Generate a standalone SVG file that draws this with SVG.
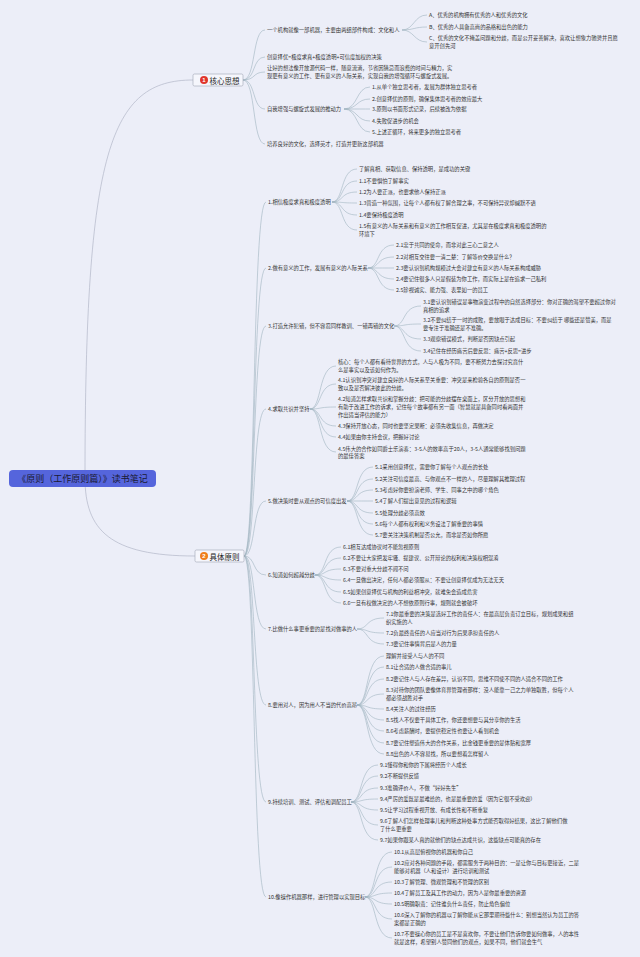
<svg xmlns="http://www.w3.org/2000/svg" width="640" height="957" viewBox="0 0 640 957">
<style>
.t{font-family:"Noto Sans CJK SC","Noto Sans",sans-serif;font-size:5.3px;fill:#333;dominant-baseline:central}
.c{fill:none;stroke:#9fb4bf;stroke-width:0.6}
.r{fill:none;stroke:#a8adc0;stroke-width:0.6}
.box{fill:#f5f6fc;stroke:#a0a4b4;stroke-width:0.6}
.bt{font-family:"Noto Sans CJK SC","Noto Sans",sans-serif;font-size:7.5px;fill:#222;dominant-baseline:central}
.num{font-family:"Liberation Sans",sans-serif;font-size:6px;fill:#fff;text-anchor:middle;dominant-baseline:central;font-weight:bold}
</style>
<rect width="640" height="957" fill="#eceef8"/>
<g id="connectors">
<path class="r" d="M85,478 C85,150 110,80 193,80"/>
<path class="r" d="M85,478 C85,530 110,556 195,556"/>
<path class="c" d="M243,80 C256,80 252,30 265,30"/>
<path class="c" d="M243,80 C256,80 252,57 265,57"/>
<path class="c" d="M243,80 C256,80 252,72 265,72"/>
<path class="c" d="M243,80 C256,80 252,109 265,109"/>
<path class="c" d="M243,80 C256,80 252,144 265,144"/>
<path class="c" d="M402,30 C414,30 414,15 427,15"/>
<path class="c" d="M402,30 C414,30 414,27 427,27"/>
<path class="c" d="M402,30 C414,30 414,42 427,42"/>
<path class="c" d="M344,109 C358,109 356,87 370,87"/>
<path class="c" d="M344,109 C358,109 356,99 370,99"/>
<path class="c" d="M344,109 C358,109 356,109 370,109"/>
<path class="c" d="M344,109 C358,109 356,121 370,121"/>
<path class="c" d="M344,109 C358,109 356,132 370,132"/>
<path class="c" d="M244,556 C256,556 252,202 266,202"/>
<path class="c" d="M244,556 C256,556 252,268 266,268"/>
<path class="c" d="M244,556 C256,556 252,326 266,326"/>
<path class="c" d="M244,556 C256,556 252,409 266,409"/>
<path class="c" d="M244,556 C256,556 252,501 266,501"/>
<path class="c" d="M244,556 C256,556 252,575 266,575"/>
<path class="c" d="M244,556 C256,556 252,629 266,629"/>
<path class="c" d="M244,556 C256,556 252,705 266,705"/>
<path class="c" d="M244,556 C256,556 252,802 266,802"/>
<path class="c" d="M244,556 C256,556 252,897 266,897"/>
<path class="c" d="M332,202 C344,202 340,169 357,169"/>
<path class="c" d="M332,202 C344,202 340,181 357,181"/>
<path class="c" d="M332,202 C344,202 340,192 357,192"/>
<path class="c" d="M332,202 C344,202 340,203 357,203"/>
<path class="c" d="M332,202 C344,202 340,215 357,215"/>
<path class="c" d="M332,202 C344,202 340,230 357,230"/>
<path class="c" d="M368,268 C380,268 376,245 394,245"/>
<path class="c" d="M368,268 C380,268 376,257 394,257"/>
<path class="c" d="M368,268 C380,268 376,268 394,268"/>
<path class="c" d="M368,268 C380,268 376,279 394,279"/>
<path class="c" d="M368,268 C380,268 376,290 394,290"/>
<path class="c" d="M394,326 C406,326 402,306 421,306"/>
<path class="c" d="M394,326 C406,326 402,324 421,324"/>
<path class="c" d="M394,326 C406,326 402,339 421,339"/>
<path class="c" d="M394,326 C406,326 402,351 421,351"/>
<path class="c" d="M310,409 C322,409 318,366 336,366"/>
<path class="c" d="M310,409 C322,409 318,384 336,384"/>
<path class="c" d="M310,409 C322,409 318,407 336,407"/>
<path class="c" d="M310,409 C322,409 318,426 336,426"/>
<path class="c" d="M310,409 C322,409 318,437 336,437"/>
<path class="c" d="M310,409 C322,409 318,452 336,452"/>
<path class="c" d="M347,501 C359,501 355,467 373,467"/>
<path class="c" d="M347,501 C359,501 355,479 373,479"/>
<path class="c" d="M347,501 C359,501 355,490 373,490"/>
<path class="c" d="M347,501 C359,501 355,501 373,501"/>
<path class="c" d="M347,501 C359,501 355,513 373,513"/>
<path class="c" d="M347,501 C359,501 355,524 373,524"/>
<path class="c" d="M347,501 C359,501 355,535 373,535"/>
<path class="c" d="M315,575 C327,575 323,547 341,547"/>
<path class="c" d="M315,575 C327,575 323,558 341,558"/>
<path class="c" d="M315,575 C327,575 323,569 341,569"/>
<path class="c" d="M315,575 C327,575 323,580 341,580"/>
<path class="c" d="M315,575 C327,575 323,592 341,592"/>
<path class="c" d="M315,575 C327,575 323,603 341,603"/>
<path class="c" d="M357,629 C369,629 365,618 384,618"/>
<path class="c" d="M357,629 C369,629 365,633 384,633"/>
<path class="c" d="M357,629 C369,629 365,644 384,644"/>
<path class="c" d="M357,705 C369,705 365,656 384,656"/>
<path class="c" d="M357,705 C369,705 365,667 384,667"/>
<path class="c" d="M357,705 C369,705 365,679 384,679"/>
<path class="c" d="M357,705 C369,705 365,694 384,694"/>
<path class="c" d="M357,705 C369,705 365,709 384,709"/>
<path class="c" d="M357,705 C369,705 365,720 384,720"/>
<path class="c" d="M357,705 C369,705 365,731 384,731"/>
<path class="c" d="M357,705 C369,705 365,743 384,743"/>
<path class="c" d="M357,705 C369,705 365,754 384,754"/>
<path class="c" d="M351,802 C363,802 359,765 378,765"/>
<path class="c" d="M351,802 C363,802 359,776 378,776"/>
<path class="c" d="M351,802 C363,802 359,788 378,788"/>
<path class="c" d="M351,802 C363,802 359,799 378,799"/>
<path class="c" d="M351,802 C363,802 359,810 378,810"/>
<path class="c" d="M351,802 C363,802 359,825 378,825"/>
<path class="c" d="M351,802 C363,802 359,840 378,840"/>
<path class="c" d="M365,897 C377,897 373,852 392,852"/>
<path class="c" d="M365,897 C377,897 373,867 392,867"/>
<path class="c" d="M365,897 C377,897 373,882 392,882"/>
<path class="c" d="M365,897 C377,897 373,893 392,893"/>
<path class="c" d="M365,897 C377,897 373,904 392,904"/>
<path class="c" d="M365,897 C377,897 373,919 392,919"/>
<path class="c" d="M365,897 C377,897 373,938 392,938"/>
</g>
<g id="root">
<rect x="9" y="470" width="147" height="17" rx="4" fill="#5565dc"/>
<text x="82.5" y="478.5" text-anchor="middle" style="font-family:'Noto Sans CJK SC',sans-serif;font-size:9px;fill:#1a1a33;dominant-baseline:central">《原则（工作原则篇）》读书笔记</text>
</g>
<g id="core">
<rect class="box" x="193" y="74" width="50" height="12" rx="1.5"/>
<circle cx="204" cy="80" r="4" fill="#e0362c"/>
<text class="num" x="204" y="80">1</text>
<text class="bt" x="209.5" y="80">核心思想</text>
</g>
<g id="specific">
<rect class="box" x="195" y="550" width="49" height="12" rx="1.5"/>
<circle cx="204" cy="556" r="4" fill="#ef7d1a"/>
<text class="num" x="204" y="556">2</text>
<text class="bt" x="209.5" y="556">具体原则</text>
</g>
<g id="c1"><text class="t" x="267" y="30">一个机构就像一部机器，主要由两组部件构成：文化和人</text></g>
<g id="c1a"><text class="t" x="429" y="15">A、优秀的机构拥有优秀的人和优秀的文化</text></g>
<g id="c1b"><text class="t" x="429" y="27">B、优秀的人具备高尚的品格和出色的能力</text></g>
<g id="c1c"><text class="t" x="429" y="38">C、优秀的文化不掩盖问题和分歧，而是公开妥善解决，喜欢让想象力驰骋并且愿</text><text class="t" x="429" y="46">意开创先河</text></g>
<g id="c2"><text class="t" x="267" y="57">创意择优=极度求真+极度透明+可信度加权的决策</text></g>
<g id="c3"><text class="t" x="267" y="68">让好的想法像开放源代码一样，随意流淌，节省因猜忌而浪费的时间与精力，实</text><text class="t" x="267" y="76">现更有意义的工作、更有意义的人际关系，实现自我的增强循环与螺旋式发展。</text></g>
<g id="c4"><text class="t" x="267" y="109">自我增强与螺旋式发展的推动力</text></g>
<g id="c4_1"><text class="t" x="372" y="87">1.从单个独立思考者，发展为群体独立思考者</text></g>
<g id="c4_2"><text class="t" x="372" y="99">2.创意择优的原则，确保集体思考者的效应最大</text></g>
<g id="c4_3"><text class="t" x="372" y="109">3.原则以书面形式记录，后续被改为依据</text></g>
<g id="c4_4"><text class="t" x="372" y="121">4.失败促进步的机会</text></g>
<g id="c4_5"><text class="t" x="372" y="132">5.上述正循环，将来更多的独立思考者</text></g>
<g id="c5"><text class="t" x="267" y="144">培养良好的文化，选择英才，打造并更新这部机器</text></g>

<g id="p1"><text class="t" x="268" y="202">1.相信极度求真和极度透明</text></g>
<g id="p1_0"><text class="t" x="359" y="169">了解真相、获取信息、保持透明，是成功的关键</text></g>
<g id="p1_1"><text class="t" x="359" y="181">1.1不要惧怕了解事实</text></g>
<g id="p1_2"><text class="t" x="359" y="192">1.2为人要正派，也要求他人保持正派</text></g>
<g id="p1_3"><text class="t" x="359" y="203">1.3营造一种氛围，让每个人都有权了解合理之事，不可保持异议却缄默不语</text></g>
<g id="p1_4"><text class="t" x="359" y="215">1.4要保持极度透明</text></g>
<g id="p1_5"><text class="t" x="359" y="226">1.5有意义的人际关系和有意义的工作相互促进，尤其是在极度求真和极度透明的</text><text class="t" x="359" y="234">环境下</text></g>

<g id="p2"><text class="t" x="268" y="268">2.做有意义的工作，发展有意义的人际关系</text></g>
<g id="p2_1"><text class="t" x="396" y="245">2.1忠于共同的使命，而非对此三心二意之人</text></g>
<g id="p2_2"><text class="t" x="396" y="257">2.2对相互交往要一清二楚：了解等价交换是什么？</text></g>
<g id="p2_3"><text class="t" x="396" y="268">2.3要认识到机构规模过大会对建立有意义的人际关系构成威胁</text></g>
<g id="p2_4"><text class="t" x="396" y="279">2.4要记住很多人只是假装为你工作，而实际上是在追求一己私利</text></g>
<g id="p2_5"><text class="t" x="396" y="290">2.5珍视诚实、能力强、表里如一的员工</text></g>

<g id="p3"><text class="t" x="268" y="326">3.打造允许犯错，但不容忍同样教训、一错再错的文化</text></g>
<g id="p3_1"><text class="t" x="423" y="302">3.1要认识到错误是事物演变过程中的自然选择部分：你对正确的渴望不要超过你对</text><text class="t" x="423" y="309.5">真相的追求</text></g>
<g id="p3_2"><text class="t" x="423" y="320">3.2不要纠结于一时的成败，要放眼于达成目标：不要纠结于 哪些还是赞美，而是</text><text class="t" x="423" y="328">要专注于准确还是不准确。</text></g>
<g id="p3_3"><text class="t" x="423" y="339">3.3观察错误模式，判断是否因缺点引起</text></g>
<g id="p3_4"><text class="t" x="423" y="351">3.4记住在经历痛苦后要反思：痛苦+反思=进步</text></g>

<g id="p4"><text class="t" x="268" y="409">4.求取共识并坚持</text></g>
<g id="p4_0"><text class="t" x="338" y="362">核心：每个人都有看待世界的方式，人与人极为不同，要不断努力去探讨究竟什</text><text class="t" x="338" y="369.5">么是事实以及该如何作为。</text></g>
<g id="p4_1"><text class="t" x="338" y="380">4.1认识到冲突对建立良好的人际关系至关重要：冲突是来检验各自的原则是否一</text><text class="t" x="338" y="388">致以及是否解决彼此的分歧。</text></g>
<g id="p4_2"><text class="t" x="338" y="399">4.2知道怎样求取共识和掌握分歧：把可能的分歧摆在桌面上，区分开放的思想和</text><text class="t" x="338" y="407">有助于改进工作的诉求，记住每个故事都有另一面（智慧就是具备同时看两面并</text><text class="t" x="338" y="415">作出适当评估的能力）</text></g>
<g id="p4_3"><text class="t" x="338" y="426">4.3保持开放心态，同时也要坚定果断：必须先收集信息，再做决定</text></g>
<g id="p4_4"><text class="t" x="338" y="437">4.4如果由你主持会议，把握好讨论</text></g>
<g id="p4_5"><text class="t" x="338" y="449">4.5伟大的合作如同爵士乐演奏：3-5人的效率高于20人，3-5人通常能够找到问题</text><text class="t" x="338" y="456">的最佳答案</text></g>

<g id="p5"><text class="t" x="268" y="501">5.做决策时要从观点的可信度出发</text></g>
<g id="p5_1"><text class="t" x="375" y="467">5.1采用创意择优，需要你了解每个人观点的长处</text></g>
<g id="p5_2"><text class="t" x="375" y="479">5.2关注可信度最高、与你观点不一样的人，尽量理解其推理过程</text></g>
<g id="p5_3"><text class="t" x="375" y="490">5.3考虑好你要扮演老师、学生、同事之中的哪个角色</text></g>
<g id="p5_4"><text class="t" x="375" y="501">5.4了解人们提出意见的过程和逻辑</text></g>
<g id="p5_5"><text class="t" x="375" y="513">5.5处理分歧必须高效</text></g>
<g id="p5_6"><text class="t" x="375" y="524">5.6每个人都有权利和义务设法了解重要的事情</text></g>
<g id="p5_7"><text class="t" x="375" y="535">5.7要关注决策机制是否公允，而非是否如你所愿</text></g>

<g id="p6"><text class="t" x="268" y="575">6.知道如何超越分歧</text></g>
<g id="p6_1"><text class="t" x="343" y="547">6.1相互达成协议时不能忽视原则</text></g>
<g id="p6_2"><text class="t" x="343" y="558">6.2不要让大家把发牢骚、提建议、公开辩论的权利和决策权相混淆</text></g>
<g id="p6_3"><text class="t" x="343" y="569">6.3不要对重大分歧不闻不问</text></g>
<g id="p6_4"><text class="t" x="343" y="580">6.4一旦做出决定，任何人都必须服从：不要让创意择优成为无法无天</text></g>
<g id="p6_5"><text class="t" x="343" y="592">6.5如果创意择优与机构的利益相冲突，就难免会造成危害</text></g>
<g id="p6_6"><text class="t" x="343" y="603">6.6一旦有权做决定的人不想依原则行事，规则就会被破坏</text></g>

<g id="p7"><text class="t" x="268" y="629">7.比做什么事更重要的是找对做事的人</text></g>
<g id="p7_1"><text class="t" x="386" y="614">7.1你最重要的决策是选好工作的责任人：在最高层负责订立目标，规划成果和组</text><text class="t" x="386" y="622">织实施的人</text></g>
<g id="p7_2"><text class="t" x="386" y="633">7.2负最终责任的人应当对行为后果承担责任的人</text></g>
<g id="p7_3"><text class="t" x="386" y="644">7.3要记住事情背后是人的力量</text></g>

<g id="p8"><text class="t" x="268" y="705">8.要用对人，因为用人不当的代价高昂</text></g>
<g id="p8_0"><text class="t" x="386" y="656">理解并接受人与人的不同</text></g>
<g id="p8_1"><text class="t" x="386" y="667">8.1让合适的人做合适的事儿</text></g>
<g id="p8_2"><text class="t" x="386" y="679">8.2要记住人与人存在差异，认识不同，思维不同使不同的人适合不同的工作</text></g>
<g id="p8_3"><text class="t" x="386" y="690">8.3对待你的团队要像体育界管理者那样：没人能靠一己之力单独取胜，但每个人</text><text class="t" x="386" y="697.5">都必须战胜对手</text></g>
<g id="p8_4"><text class="t" x="386" y="709">8.4关注人的过往经历</text></g>
<g id="p8_5"><text class="t" x="386" y="720">8.5找人不仅要干具体工作，你还要想要与其分享你的生活</text></g>
<g id="p8_6"><text class="t" x="386" y="731">8.6考虑薪酬时，要提供稳定性也要让人看到机会</text></g>
<g id="p8_7"><text class="t" x="386" y="743">8.7要记住塑造伟大的合作关系，比金钱更重要的是体贴和宽厚</text></g>
<g id="p8_8"><text class="t" x="386" y="754">8.8出色的人不容易找，所以要想着怎样留人</text></g>

<g id="p9"><text class="t" x="268" y="802">9.持续培训、测试、评估和调配员工</text></g>
<g id="p9_1"><text class="t" x="380" y="765">9.1懂得你和你的下属将经历个人成长</text></g>
<g id="p9_2"><text class="t" x="380" y="776">9.2不断提供反馈</text></g>
<g id="p9_3"><text class="t" x="380" y="788">9.3准确评价人，不做“好好先生”</text></g>
<g id="p9_4"><text class="t" x="380" y="799">9.4严厉的爱既是最难给的，也是最重要的爱（因为它很不受欢迎）</text></g>
<g id="p9_5"><text class="t" x="380" y="810">9.5让学习过程重视开放、有成长性和不断重复</text></g>
<g id="p9_6"><text class="t" x="380" y="821">9.6了解人们怎样处理事儿和判断这种处事方式能否取得好结果，这比了解他们做</text><text class="t" x="380" y="829">了什么更重要</text></g>
<g id="p9_7"><text class="t" x="380" y="840">9.7如果你跟某人真的就他们的缺点达成共识，这些缺点可能真的存在</text></g>

<g id="p10"><text class="t" x="268" y="897">10.像操作机器那样，进行管理以实现目标</text></g>
<g id="p10_1"><text class="t" x="394" y="852">10.1从高层俯视你的机器和你自己</text></g>
<g id="p10_2"><text class="t" x="394" y="863">10.2应对各种问题的手段，都需服务于两种目的：一是让你与目标更接近，二是</text><text class="t" x="394" y="871">能够对机器（人和设计）进行培训和测试</text></g>
<g id="p10_3"><text class="t" x="394" y="882">10.3了解管理、微观管理和不管理的区别</text></g>
<g id="p10_4"><text class="t" x="394" y="893">10.4了解员工及其工作的动力，因为人是你最重要的资源</text></g>
<g id="p10_5"><text class="t" x="394" y="904">10.5明确职责：记住谁负什么责任，防止角色偏位</text></g>
<g id="p10_6"><text class="t" x="394" y="915">10.6深入了解你的机器以了解你能从它那里期待些什么：别想当然认为员工的答</text><text class="t" x="394" y="923">案都是正确的</text></g>
<g id="p10_7"><text class="t" x="394" y="934">10.7不要操心你的员工是不是喜欢你，不要让他们告诉你要如何做事，人的本性</text><text class="t" x="394" y="942">就是这样，希望别人赞同他们的观点，如果不同，他们就会生气</text></g>
</svg>
